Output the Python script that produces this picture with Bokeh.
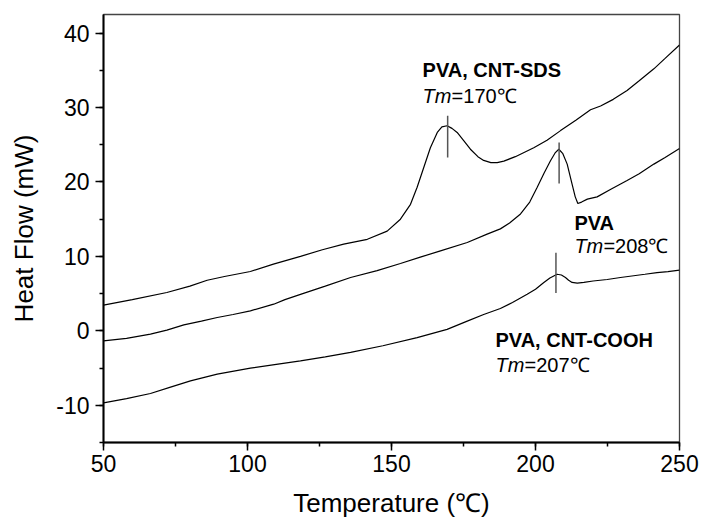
from bokeh.plotting import figure
from bokeh.models import Range1d, SingleIntervalTicker, ColumnDataSource
from bokeh.core.properties import value
from bokeh.embed import file_html
from bokeh.resources import INLINE

# ---- data ----
sds_x = [50, 60, 72, 80, 86, 92, 101, 109, 118.4, 126, 133.4, 141.6, 148.5, 153.1, 156.6,
         158.9, 161.2, 163.5, 165.9, 167.5, 169.3, 171, 172.8, 175, 177.4, 180, 182, 184.5,
         186.7, 189, 193, 199.4, 204, 208.7, 214, 219.1, 222.6, 227, 231.8, 236, 241.1, 245, 250]
sds_y = [3.45, 4.2, 5.15, 6.0, 6.8, 7.3, 7.97, 8.96, 10.0, 10.9, 11.65, 12.3, 13.4, 15.0, 17.0,
         19.3, 21.95, 24.6, 26.65, 27.4, 27.55, 27.2, 26.65, 25.6, 24.4, 23.4, 22.9, 22.6,
         22.6, 22.8, 23.4, 24.6, 25.6, 26.9, 28.3, 29.7, 30.2, 31.1, 32.3, 33.6, 35.2, 36.6, 38.4]

pva_x = [50, 58, 66.3, 72, 77.9, 84, 89.5, 95, 101, 109.1, 113, 118.4, 127, 135.8, 145, 153.1,
         160, 167, 176.3, 183.2, 187.8, 191, 194.8, 198, 200.6, 203, 205.2, 206.8, 208.1, 209.5,
         211, 212.7, 213.8, 214.7, 216, 218, 221.4, 226, 231.8, 236, 241.1, 245, 250]
pva_y = [-1.34, -1.0, -0.45, 0.1, 0.8, 1.3, 1.79, 2.2, 2.69, 3.58, 4.2, 4.9, 6.0, 7.17, 8.1, 9.05,
         9.9, 10.75, 11.87, 13.0, 13.7, 14.5, 15.7, 17.3, 19.3, 21.2, 22.85, 23.9, 24.4, 23.8,
         22.4, 19.7, 18.0, 17.1, 17.3, 17.7, 18.0, 19.0, 20.2, 21.1, 22.4, 23.3, 24.5]

cooh_x = [50, 58, 66.3, 73, 80.2, 89.5, 101, 110, 118.4, 127, 135.8, 147, 158.9, 169.3, 176.3,
          182, 187.8, 192, 197.1, 200, 202.9, 205, 207.5, 209, 210.4, 211.5, 212.7, 214.5, 216.8,
          220, 224.9, 229.5, 234.1, 238, 242.2, 246, 250]
cooh_y = [-9.68, -9.1, -8.42, -7.6, -6.72, -5.82, -5.02, -4.5, -4.03, -3.5, -2.9, -2.0, -0.9, 0.2, 1.3,
          2.2, 3.0, 3.8, 4.93, 5.6, 6.5, 7.1, 7.6, 7.5, 7.17, 6.8, 6.5, 6.4, 6.5,
          6.7, 6.9, 7.17, 7.4, 7.6, 7.83, 7.95, 8.16]

names = ["PVA, CNT-SDS", "PVA", "PVA, CNT-COOH"]
tm_values = [170, 208, 207]
marker_x = [169.5, 208.2, 207.1]
marker_y0 = [23.3, 19.8, 5.1]
marker_y1 = [28.9, 25.3, 10.5]
label_x = [160.8, 213.5, 186.1]
label_y = [35.0, 14.5, -1.2]
tm_label_y = [31.6, 11.4, -4.6]

x_ticks = [50, 100, 150, 200, 250]
y_ticks = [-10, 0, 10, 20, 30, 40]
x_title = "Temperature (\u2103)"
y_title = "Heat Flow (mW)"

FONT = "Liberation Sans"

p = figure(width=700, height=521, output_backend="svg", toolbar_location=None,
           x_range=Range1d(50, 250), y_range=Range1d(-15, 42.5),
           min_border_left=103, min_border_right=21, min_border_top=14, min_border_bottom=79)
p.background_fill_color = "white"
p.border_fill_color = "white"
p.xgrid.visible = False
p.ygrid.visible = False
p.outline_line_color = "#444444"
p.outline_line_width = 1.3

for line_x, line_y in [(sds_x, sds_y), (pva_x, pva_y), (cooh_x, cooh_y)]:
    p.line(line_x, line_y, line_color="black", line_width=1.2)

p.segment(x0=marker_x, y0=marker_y0, x1=marker_x, y1=marker_y1,
          line_color="#555555", line_width=1.5)

src = ColumnDataSource(dict(x=label_x, y=label_y, name=names, ty=tm_label_y,
                            rest=["=%d\u2103" % t for t in tm_values]))
p.text(x="x", y="y", text="name", source=src, text_font=value(FONT),
       text_font_style="bold", text_font_size="20px", text_baseline="alphabetic",
       text_color="black")
p.text(x="x", y="ty", text=value("Tm"), source=src, text_font=value(FONT),
       text_font_style="italic", text_font_size="20px", text_baseline="alphabetic",
       text_color="black")
p.text(x="x", y="ty", text="rest", source=src, text_font=value(FONT), x_offset=29,
       text_font_size="20px", text_baseline="alphabetic", text_color="black")

for ax in (p.xaxis[0], p.yaxis[0]):
    ax.axis_line_width = 2
    ax.axis_line_color = "black"
    ax.major_tick_line_color = "black"
    ax.minor_tick_line_color = "black"
    ax.major_tick_line_width = 1.5
    ax.minor_tick_line_width = 1.5
    ax.major_tick_in = 0
    ax.minor_tick_in = 0
    ax.major_tick_out = 8
    ax.minor_tick_out = 4
    ax.major_label_text_font = FONT
    ax.major_label_text_font_size = "23px"
    ax.major_label_text_color = "black"
    ax.major_label_text_line_height = 1.0
    ax.axis_label_text_font = FONT
    ax.axis_label_text_font_size = "26px"
    ax.axis_label_text_font_style = "normal"
    ax.axis_label_text_color = "black"
    ax.axis_label_text_line_height = 1.0

p.xaxis[0].ticker = SingleIntervalTicker(interval=50, num_minor_ticks=2)
p.yaxis[0].ticker = SingleIntervalTicker(interval=10, num_minor_ticks=2)
p.xaxis[0].major_label_overrides = {t: str(t) for t in x_ticks}
p.yaxis[0].major_label_overrides = {t: str(t) for t in y_ticks}
p.xaxis[0].axis_label = x_title
p.yaxis[0].axis_label = y_title
p.xaxis[0].major_label_standoff = 4
p.yaxis[0].major_label_standoff = 6
p.xaxis[0].axis_label_standoff = 13
p.yaxis[0].axis_label_standoff = 14

open("out.html", "w").write(file_html(p, INLINE))
